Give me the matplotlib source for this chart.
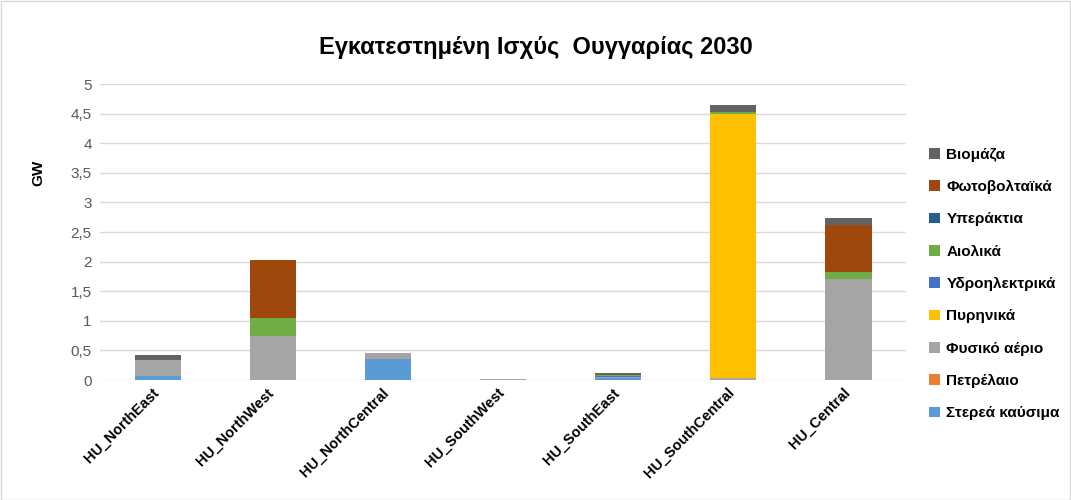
import numpy as np
import matplotlib.pyplot as plt
import matplotlib.transforms as mtransforms
from matplotlib.patches import Rectangle

plt.rcParams['font.family'] = ['Liberation Sans', 'DejaVu Sans']

# ==========================================
# Dados (GW)
# ==========================================
zones = ['HU_NorthEast', 'HU_NorthWest', 'HU_NorthCentral', 'HU_SouthWest',
         'HU_SouthEast', 'HU_SouthCentral', 'HU_Central']

stereo = [0.07, 0.00, 0.35, 0.00, 0.03, 0.00, 0.00]
petrelaio = [0.00, 0.00, 0.00, 0.00, 0.00, 0.00, 0.00]
fysiko = [0.27, 0.74, 0.10, 0.02, 0.02, 0.04, 1.70]
pyrhnika = [0.00, 0.00, 0.00, 0.00, 0.00, 4.46, 0.00]
ydro = [0.00, 0.00, 0.00, 0.00, 0.02, 0.00, 0.00]
aiolika = [0.00, 0.30, 0.00, 0.00, 0.02, 0.02, 0.12]
yperaktia = [0.00, 0.00, 0.00, 0.00, 0.00, 0.00, 0.00]
fotovolt = [0.00, 0.98, 0.00, 0.00, 0.00, 0.00, 0.79]
viomaza = [0.08, 0.01, 0.00, 0.00, 0.03, 0.13, 0.12]

series = [
    ('Στερεά καύσιμα', stereo, '#5B9BD5'),
    ('Πετρέλαιο', petrelaio, '#ED7D31'),
    ('Φυσικό αέριο', fysiko, '#A5A5A5'),
    ('Πυρηνικά', pyrhnika, '#FFC000'),
    ('Υδροηλεκτρικά', ydro, '#4472C4'),
    ('Αιολικά', aiolika, '#70AD47'),
    ('Υπεράκτια', yperaktia, '#255E91'),
    ('Φωτοβολταϊκά', fotovolt, '#9E480E'),
    ('Βιομάζα', viomaza, '#636363'),
]

# ==========================================
# Gráfico
# ==========================================
fig = plt.figure(figsize=(10.71, 5.0), dpi=100)
ax = fig.add_axes([0.0934, 0.24, 0.7526, 0.592])

x = np.arange(len(zones))
bottom = np.zeros(len(zones))
handles = []
for name, vals, col in series:
    vals = np.array(vals)
    b = ax.bar(x, vals, width=0.4, bottom=bottom, color=col, label=name, zorder=3)
    handles.append(b)
    bottom += vals

ax.set_xlim(-0.5, len(zones) - 0.5)
ax.set_ylim(0, 5)
ticks = np.arange(0, 5.01, 0.5)
ax.set_yticks(ticks)
ax.set_yticklabels([f'{v:g}'.replace('.', ',') for v in ticks], fontsize=11, color='#595959')
ax.set_xticks(x)
ax.set_xticklabels(zones, rotation=45, ha='right', rotation_mode='anchor',
                   fontsize=10.5, fontweight='bold', color='black')
ax.tick_params(axis='y', length=0, pad=6)
ax.tick_params(axis='x', length=0, pad=4)
# desloca os rótulos um pouco para a esquerda, como no original
offset = mtransforms.ScaledTranslation(-6 / 100, 0, fig.dpi_scale_trans)
for lbl in ax.get_xticklabels():
    lbl.set_transform(lbl.get_transform() + offset)
ax.grid(axis='y', color='#D9D9D9', linewidth=1, zorder=0)
for s in ax.spines.values():
    s.set_visible(False)

ax.set_ylabel('GW', fontsize=11, fontweight='bold')
ax.yaxis.set_label_coords(-0.068, 0.7)
fig.text(0.5, 0.905, 'Εγκατεστημένη Ισχύς  Ουγγαρίας 2030', ha='center', va='center',
         fontsize=17, fontweight='bold')

fig.legend(handles[::-1], [s[0] for s in series][::-1], loc='center left',
           bbox_to_anchor=(0.855, 0.432), frameon=False, handlelength=0.7,
           handleheight=0.7, handletextpad=0.4, labelspacing=1.2,
           prop={'weight': 'bold', 'size': 11})

fig.patches.append(Rectangle((0.001, 0.001), 0.998, 0.998, transform=fig.transFigure,
                             fill=False, edgecolor='#D9D9D9', linewidth=1))

fig.savefig('out.png', dpi=100)
